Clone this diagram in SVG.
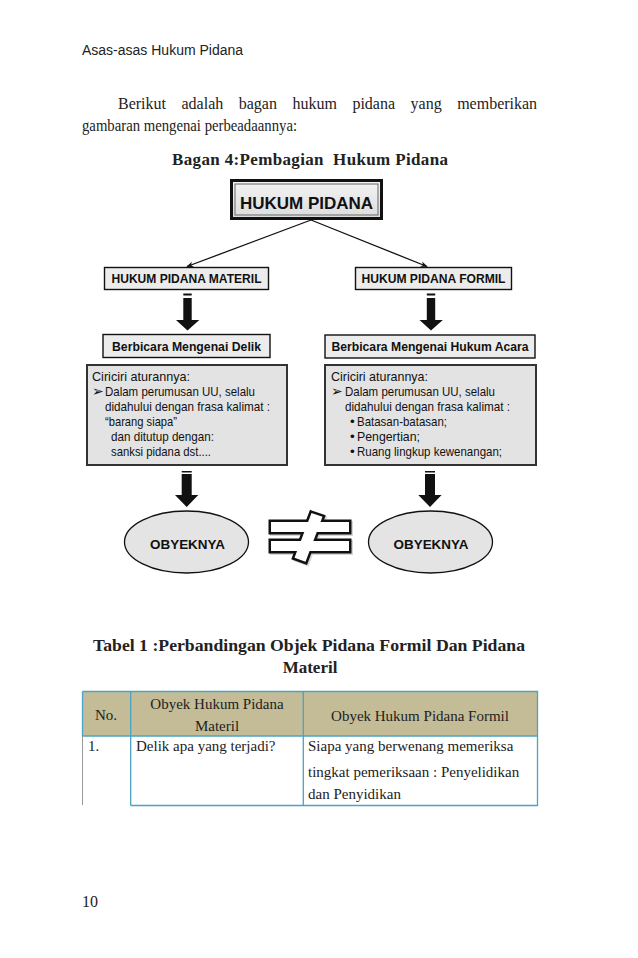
<svg xmlns="http://www.w3.org/2000/svg" width="638" height="958" viewBox="0 0 638 958">
<defs>
<style>
.hdr{font-family:"Liberation Sans",Arial,sans-serif;font-size:14px;fill:#222}
.body{font-family:"Liberation Serif","Times New Roman",serif;font-size:16px;fill:#222}
.cap{font-family:"Liberation Serif","Times New Roman",serif;font-size:17px;font-weight:bold;fill:#222;white-space:pre}
.tb{font-family:"Liberation Serif","Times New Roman",serif;font-size:15px;fill:#222}
.nb{font-family:"Liberation Sans",Arial,sans-serif;font-weight:bold;fill:#111}
.nt{font-family:"Liberation Sans",Arial,sans-serif;font-size:13.5px;fill:#111}
.box{fill:#ececec;stroke:#111;stroke-width:1.4}
.cbox{fill:#e3e3e3;stroke:#333;stroke-width:2}
.ell{fill:#e4e4e4;stroke:#111;stroke-width:1.3}
.conn{stroke:#111;stroke-width:1.3;fill:none}
.blk{fill:#111}
.tline{stroke:#4ba3c3;stroke-width:1.3;fill:none}
</style>
<marker id="ah" viewBox="0 0 10 10" refX="9" refY="5" markerWidth="7" markerHeight="7" orient="auto" markerUnits="userSpaceOnUse">
<path d="M0,1 L10,5 L0,9 L3,5 z" fill="#111"/>
</marker>
<linearGradient id="gtex" x1="0" y1="0" x2="0" y2="1">
<stop offset="0" stop-color="#f4f4f4"/><stop offset="1" stop-color="#dcdcdc"/>
</linearGradient>
</defs>
<rect width="638" height="958" fill="#fff"/>

<text class="hdr" x="82" y="55">Asas-asas Hukum Pidana</text>
<text class="body" x="118" y="109" word-spacing="11.5">Berikut adalah bagan hukum pidana yang memberikan</text>
<text class="body" x="82" y="131" textLength="215" lengthAdjust="spacingAndGlyphs">gambaran mengenai perbeadaannya:</text>
<text class="cap" x="172" y="165" textLength="276" lengthAdjust="spacing">Bagan 4:Pembagian  Hukum Pidana</text>

<g id="connectors">
<line class="conn" x1="311" y1="220" x2="187" y2="266.5" marker-end="url(#ah)"/>
<line class="conn" x1="311" y1="220" x2="427" y2="266.5" marker-end="url(#ah)"/>
<g id="arrow-l1" class="blk"><rect x="183.3" y="293.5" width="8.4" height="2"/><path d="M183.3,298 H191.7 V320 H199.3 L187.5,330.5 L176,320 H183.3 Z"/></g>
<g id="arrow-r1" class="blk"><rect x="426.8" y="293.5" width="8.4" height="2"/><path d="M426.8,298 H435.2 V320 H442.8 L431,330.5 L419.5,320 H426.8 Z"/></g>
<g id="arrow-l2" class="blk"><rect x="181.7" y="471" width="10" height="1.5"/><path d="M181.7,474 H191.7 V495 H198.3 L186.7,507 L175,495 H181.7 Z"/></g>
<g id="arrow-r2" class="blk"><rect x="425" y="471" width="10" height="1.5"/><path d="M425,474 H435 V495 H441.6 L430,507 L418.3,495 H425 Z"/></g>
</g>

<g id="n-hukum-pidana">
<rect x="231.5" y="180.5" width="150" height="38" fill="url(#gtex)" stroke="#111" stroke-width="3"/>
<rect x="235" y="184" width="143" height="31" fill="none" stroke="#666" stroke-width="1"/>
<text class="nb" x="306.5" y="209" font-size="17" text-anchor="middle">HUKUM PIDANA</text>
</g>

<g id="n-materil">
<rect class="box" x="104.5" y="267.5" width="164" height="22"/>
<text class="nb" x="186.5" y="283" font-size="12.5" text-anchor="middle" textLength="150" lengthAdjust="spacingAndGlyphs">HUKUM PIDANA MATERIL</text>
</g>
<g id="n-formil">
<rect class="box" x="355.5" y="267.5" width="156" height="22"/>
<text class="nb" x="433.5" y="283" font-size="12.5" text-anchor="middle" textLength="144" lengthAdjust="spacingAndGlyphs">HUKUM PIDANA FORMIL</text>
</g>

<g id="n-delik">
<rect class="box" x="103" y="334.5" width="167" height="23"/>
<text class="nb" x="186.5" y="351" font-size="13.5" text-anchor="middle" textLength="149" lengthAdjust="spacingAndGlyphs">Berbicara Mengenai Delik</text>
</g>
<g id="n-acara">
<rect class="box" x="325" y="335" width="210" height="23"/>
<text class="nb" x="430" y="351" font-size="13.5" text-anchor="middle" textLength="197" lengthAdjust="spacingAndGlyphs">Berbicara Mengenai Hukum Acara</text>
</g>

<g id="n-ciri-materil">
<rect class="cbox" x="87" y="365" width="200" height="100"/>
<text class="nt" x="92" y="381" textLength="98" lengthAdjust="spacingAndGlyphs">Ciriciri aturannya:</text>
<text class="nt" x="92" y="396">➢</text>
<text class="nt" x="105" y="396" textLength="150" lengthAdjust="spacingAndGlyphs">Dalam perumusan UU, selalu</text>
<text class="nt" x="105" y="411" textLength="165" lengthAdjust="spacingAndGlyphs">didahului dengan frasa kalimat :</text>
<text class="nt" x="105" y="426" textLength="72" lengthAdjust="spacingAndGlyphs">“barang siapa”</text>
<text class="nt" x="111" y="441" textLength="103" lengthAdjust="spacingAndGlyphs">dan ditutup dengan:</text>
<text class="nt" x="111" y="456" textLength="100" lengthAdjust="spacingAndGlyphs">sanksi pidana dst....</text>
</g>

<g id="n-ciri-formil">
<rect class="cbox" x="325" y="365" width="211" height="100"/>
<text class="nt" x="331" y="381" textLength="97" lengthAdjust="spacingAndGlyphs">Ciriciri aturannya:</text>
<text class="nt" x="331" y="396">➢</text>
<text class="nt" x="345" y="396" textLength="150" lengthAdjust="spacingAndGlyphs">Dalam perumusan UU, selalu</text>
<text class="nt" x="345" y="411" textLength="165" lengthAdjust="spacingAndGlyphs">didahului dengan frasa kalimat :</text>
<text class="nt" x="350" y="426">•</text>
<text class="nt" x="357" y="426" textLength="90" lengthAdjust="spacingAndGlyphs">Batasan-batasan;</text>
<text class="nt" x="350" y="441">•</text>
<text class="nt" x="357" y="441" textLength="63" lengthAdjust="spacingAndGlyphs">Pengertian;</text>
<text class="nt" x="350" y="456">•</text>
<text class="nt" x="357" y="456" textLength="145" lengthAdjust="spacingAndGlyphs">Ruang lingkup kewenangan;</text>
</g>

<g id="n-obyek-l">
<ellipse class="ell" cx="186.5" cy="542" rx="62" ry="31"/>
<text class="nb" x="187.5" y="549" font-size="13.5" text-anchor="middle" textLength="75" lengthAdjust="spacingAndGlyphs">OBYEKNYA</text>
</g>
<g id="n-obyek-r">
<ellipse class="ell" cx="430.5" cy="542" rx="62" ry="31"/>
<text class="nb" x="431" y="549" font-size="13.5" text-anchor="middle" textLength="75" lengthAdjust="spacingAndGlyphs">OBYEKNYA</text>
</g>

<g id="n-not-equal">
<g fill="#bbb" stroke="#bbb" stroke-width="5" transform="translate(1.5,1.5)" opacity="0.6">
<rect x="271" y="522" width="78" height="10"/>
<rect x="271" y="541" width="78" height="10"/>
<polygon points="311.5,513 322.5,516.8 305.5,561.8 294.5,557.8"/>
</g>
<g fill="#111" stroke="#111" stroke-width="5">
<rect x="271" y="522" width="78" height="10"/>
<rect x="271" y="541" width="78" height="10"/>
<polygon points="311.5,513 322.5,516.8 305.5,561.8 294.5,557.8"/>
</g>
<g fill="#fff">
<rect x="271" y="522" width="78" height="10"/>
<rect x="271" y="541" width="78" height="10"/>
<polygon points="311.5,513 322.5,516.8 305.5,561.8 294.5,557.8"/>
</g>
</g>

<text class="cap" x="309" y="651" text-anchor="middle" textLength="432" lengthAdjust="spacingAndGlyphs">Tabel 1 :Perbandingan Objek Pidana Formil Dan Pidana</text>
<text class="cap" x="310" y="673" text-anchor="middle">Materil</text>

<g id="table">
<rect x="82.5" y="691.5" width="455" height="44.5" fill="#c4bc96"/>
<path class="tline" d="M82.5,691.5 H537.5 V805.5 H130.7 M82.5,691.5 V736 H537.5 M130.7,691.5 V805.5 M303.3,691.5 V805.5"/>
<line x1="82.5" y1="736" x2="82.5" y2="805" stroke="#999" stroke-width="1"/>
<text class="tb" x="106" y="720" text-anchor="middle">No.</text>
<text class="tb" x="217" y="709" text-anchor="middle">Obyek Hukum Pidana</text>
<text class="tb" x="217" y="731" text-anchor="middle">Materil</text>
<text class="tb" x="420" y="721" text-anchor="middle">Obyek Hukum Pidana Formil</text>
<text class="tb" x="88" y="751">1.</text>
<text class="tb" x="136" y="751">Delik apa yang terjadi?</text>
<text class="tb" x="308" y="751">Siapa yang berwenang memeriksa</text>
<text class="tb" x="308" y="777">tingkat pemeriksaan : Penyelidikan</text>
<text class="tb" x="308" y="799">dan Penyidikan</text>
</g>

<text class="body" x="82" y="907">10</text>
</svg>
